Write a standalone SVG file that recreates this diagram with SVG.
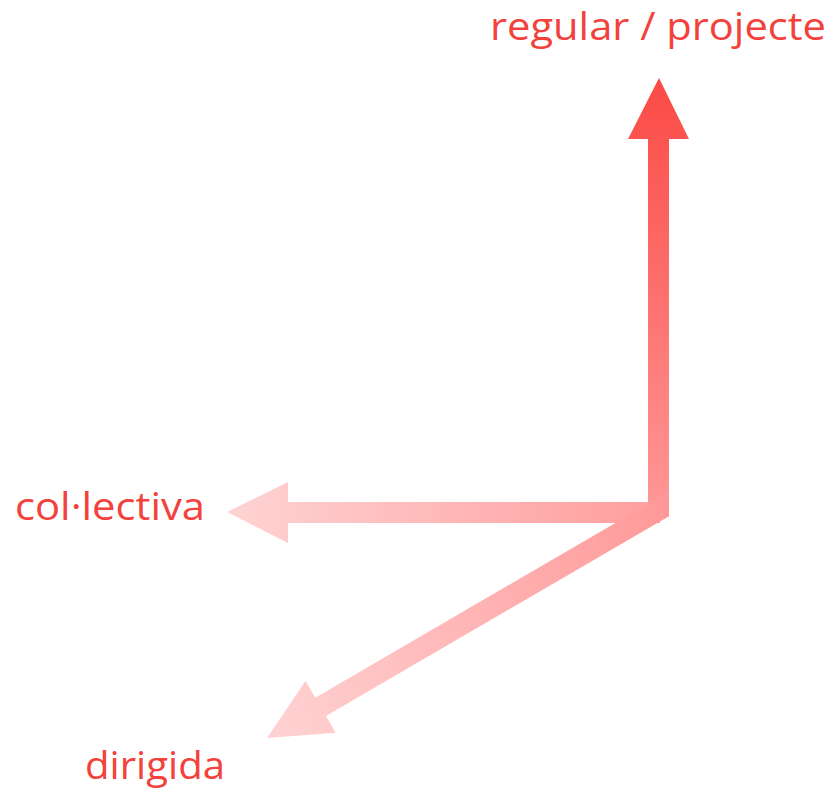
<svg xmlns="http://www.w3.org/2000/svg" width="835" height="790" viewBox="0 0 835 790">
<style>
.lbl{font-family:"Open Sans","Liberation Sans",sans-serif;font-size:38px;fill:#f3423c;}
</style>
<defs>
<linearGradient id="gUp" gradientUnits="userSpaceOnUse" x1="659" y1="78" x2="659" y2="516">
<stop offset="0" stop-color="#fb4a45"/><stop offset="1" stop-color="#ff9898"/>
</linearGradient>
<linearGradient id="gLeft" gradientUnits="userSpaceOnUse" x1="669" y1="512" x2="227" y2="512">
<stop offset="0" stop-color="#ff9c9c"/><stop offset="1" stop-color="#ffd3d3"/>
</linearGradient>
<linearGradient id="gDiag" gradientUnits="userSpaceOnUse" x1="669" y1="504" x2="267" y2="738">
<stop offset="0" stop-color="#ff9898"/><stop offset="1" stop-color="#ffd3d3"/>
</linearGradient>
</defs>
<g id="connectors">
<polygon id="arrow-left" fill="url(#gLeft)" points="660,502 288,502 288,482 227,512 288,543 288,523 660,523"/>
<polygon id="arrow-up" fill="url(#gUp)" points="648,512 648,139 628,139 659,78 689,139 669,139 669,512"/>
<polygon id="arrow-diag" fill="url(#gDiag)" points="669,491.8 315.3,697.7 305.5,680.9 267,738 335.7,732.7 325.9,715.9 669,516.2"/>
</g>
<g id="node-regular"><text class="lbl" x="490" y="40" textLength="336" lengthAdjust="spacingAndGlyphs">regular / projecte</text></g>
<g id="node-collectiva"><text class="lbl" x="15" y="520" textLength="190" lengthAdjust="spacingAndGlyphs">col·lectiva</text></g>
<g id="node-dirigida"><text class="lbl" x="85" y="779" textLength="140" lengthAdjust="spacingAndGlyphs">dirigida</text></g>
</svg>
